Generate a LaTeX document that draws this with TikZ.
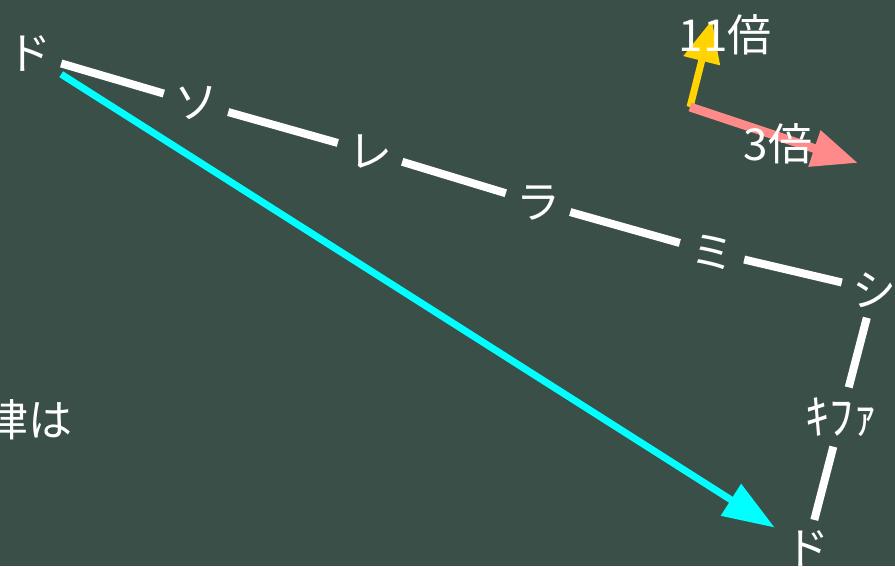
\documentclass[tikz,border=0pt]{standalone}
\usepackage{fontspec}
\setmainfont{Noto Sans CJK JP}
\usetikzlibrary{arrows.meta, positioning}
\definecolor{bBoard}{HTML}{3A4F48}
\definecolor{mCyan}{HTML}{00FFFF}
\definecolor{mGold}{HTML}{FFD400}
\definecolor{mPink}{HTML}{FF8A8A}

\tikzset{
  note/.style={text=white, inner sep=10pt, font=\fontsize{44}{48}\selectfont},
  chalk/.style={white, line width=8pt},
}

\begin{document}
\begin{tikzpicture}[x=1pt, y=-1pt]
    \fill[bBoard] (0,0) rectangle (895,566);
    \useasboundingbox (0,0) rectangle (895,566);
    % scale along the staff
    \foreach \v/\x/\y [count=\i from 1] in
      {ド/29/54, ソ/196/103, レ/370/152, ラ/538/203, ミ/712/252, シ/874/290}
      \node[note] (n\i) at (\x,\y) {\v};
    \node[note, font=\fontsize{48}{52}\selectfont] (kifa) at (841,417) {ｷﾌｧ};
    \node[note] (n7) at (807,548) {ド};
    \foreach \a/\b in {n1/n2, n2/n3, n3/n4, n4/n5, n5/n6, n6/kifa, kifa/n7}
      \draw[chalk] (\a) -- (\b);
    \draw[mCyan, line width=7pt, -{Triangle[length=52pt, width=36pt]}]
      (n1) -- (n7);
    % ratio arrows
    \coordinate (o) at (690,107);
    \coordinate (up) at (712,20);
    \coordinate (rt) at (858,163);
    \draw[mGold, line width=7pt, -{Triangle[length=42pt, width=36pt]}] (o) -- (up);
    \draw[mPink, line width=9pt, -{Triangle[length=46pt, width=36pt]}] (o) -- (rt);
    \node[note, inner sep=0pt] (r11) at (725,35) {11倍};
    \node[note, inner sep=0pt] (r3) at (778,144) {3倍};
    \node[note, inner sep=0pt, anchor=east] (ritsu) at (73,420) {律は};
\end{tikzpicture}
\end{document}
